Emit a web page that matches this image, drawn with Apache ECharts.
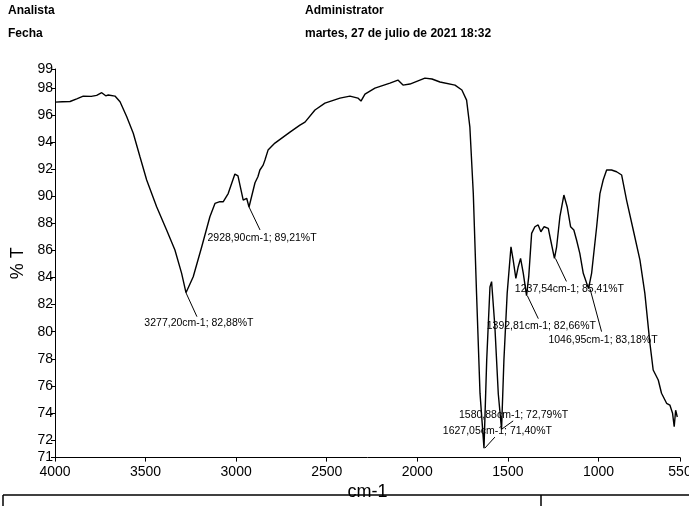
<!DOCTYPE html>
<html>
<head>
<meta charset="utf-8">
<script src="https://cdn.jsdelivr.net/npm/echarts@6/dist/echarts.min.js"></script>
<style>
html,body{margin:0;padding:0;background:#fff;}
#chart{width:689px;height:506px;}
</style>
</head>
<body>
<div id="chart"></div>
<script>
// ---- data ----
const wavenumbers = [4000,3960,3917,3880,3844,3800,3770,3742,3720,3706,3669,3641,3604,3568,3531,3494,3439,3384,3338,3301,3277,3237,3190,3145,3117,3090,3071,3044,3007,2990,2979,2961,2950,2942,2929,2896,2880,2869,2851,2841,2824,2786,2703,2648,2620,2565,2510,2427,2372,2328,2311,2289,2234,2151,2107,2079,2041,1958,1919,1875,1792,1754,1728,1710,1691,1673,1654,1632,1617,1599,1590,1572,1553,1535,1522,1504,1483,1471,1456,1443,1430,1415,1397,1385,1369,1351,1333,1318,1300,1277,1264,1243,1231,1213,1191,1173,1154,1136,1121,1103,1084,1055,1038,1010,992,974,955,928,900,872,845,808,771,744,716,698,670,652,624,606,591,582,574,565];
const transmittance = [96.95,96.98,97.0,97.2,97.4,97.38,97.45,97.65,97.42,97.48,97.4,96.98,95.87,94.65,92.92,91.2,89.23,87.51,86.03,84.31,82.88,84.06,86.27,88.49,89.47,89.6,89.6,90.2,91.64,91.5,90.83,89.72,89.6,89.85,89.21,91.0,91.44,91.94,92.3,92.68,93.41,93.93,94.74,95.26,95.48,96.37,96.88,97.25,97.40,97.25,97.03,97.55,97.99,98.36,98.58,98.21,98.29,98.73,98.66,98.44,98.21,97.85,97.1,95.13,90.2,82.8,75.46,71.40,77.9,83.3,83.7,80.4,75.4,72.79,77.9,82.83,86.27,85.3,83.94,84.8,85.41,84.3,82.66,84.06,87.26,87.75,87.88,87.38,87.75,87.63,86.77,85.41,86.27,88.49,90.09,89.23,87.75,87.51,86.77,85.78,84.31,83.18,84.31,87.75,90.2,91.2,91.94,91.94,91.81,91.57,89.72,87.51,85.29,82.83,79.14,77.17,76.43,75.45,74.71,74.58,73.97,72.98,74.2,73.7];

const xTickLabels = [4000,3500,3000,2500,2000,1500,1000,550];
const yTickLabels = [71,72,74,76,78,80,82,84,86,88,90,92,94,96,98,99];

const annWn   = [3277.2, 2928.9, 1392.81, 1237.54, 1046.95, 1535, 1627.05];
const annT    = [82.88, 89.21, 82.66, 85.41, 83.18, 72.79, 71.40];
const annText = ['3277,20cm-1; 82,88%T','2928,90cm-1; 89,21%T','1392,81cm-1; 82,66%T','1237,54cm-1; 85,41%T','1046,95cm-1; 83,18%T','1580,88cm-1; 72,79%T','1627,05cm-1; 71,40%T'];

const headerLeft  = ['Analista','Fecha'];
const headerRight = ['Administrator','martes, 27 de julio de 2021 18:32'];

// ---- layout / style ----
const annLayout = [
  {lx:11, ly:24, tx:13, ty:30},
  {lx:11, ly:23, tx:13, ty:31},
  {lx:11, ly:23, tx:14, ty:30},
  {lx:11, ly:23, tx:14, ty:31},
  {lx:11.6, ly:43, tx:13, ty:51},
  {lx:11.6, ly:-8.4, tx:12, ty:-14},
  {lx:10, ly:-11, tx:12.5, ty:-17}
];
const yMin = 70.7, yMax = 99.4;
const narrow = '"Liberation Sans Narrow", "Liberation Sans", Arial, sans-serif';
const sans = '"Liberation Sans", Arial, sans-serif';

const chart = echarts.init(document.getElementById('chart'), null, {renderer:'canvas'});
const lineData = wavenumbers.map((w,i)=>[w, transmittance[i]]);
const annData = annWn.map((w,i)=>[w, annT[i]]);
const yTickValues = yTickLabels.map(v => v===71 ? yMin : (v===99 ? yMax : v));

const headerGraphics = [];
headerLeft.forEach((t,i)=>headerGraphics.push({type:'text', left:8, top:5+i*23, style:{text:t, font:'bold 12px '+sans, fill:'#000'}}));
headerRight.forEach((t,i)=>headerGraphics.push({type:'text', left:305, top:5+i*23, style:{text:t, font:'bold 12px '+sans, fill:'#000'}}));

chart.setOption({
  animation:false,
  backgroundColor:'#fff',
  grid:{left:55, right:9, top:69, bottom:48.4, containLabel:false, outerBoundsMode:'none'},
  xAxis:{
    type:'value', min:550, max:4000, inverse:true,
    name:'cm-1', nameLocation:'middle', nameGap:25, nameMoveOverlap:false,
    nameTextStyle:{fontFamily:narrow, fontSize:18, color:'#000'},
    axisLine:{show:true, onZero:false, lineStyle:{color:'#000', width:1}},
    axisTick:{show:true, length:4, customValues:xTickLabels, lineStyle:{color:'#000'}},
    axisLabel:{customValues:xTickLabels, fontFamily:narrow, fontSize:14, color:'#000', margin:8,
      formatter:v=>String(v), showMinLabel:true, showMaxLabel:true, hideOverlap:false},
    splitLine:{show:false}
  },
  yAxis:{
    type:'value', min:yMin, max:yMax,
    name:'% T', nameLocation:'middle', nameGap:28, nameRotate:90, nameMoveOverlap:false,
    nameTextStyle:{fontFamily:sans, fontSize:18, color:'#000'},
    axisLine:{show:true, onZero:false, lineStyle:{color:'#000', width:1}},
    axisTick:{show:true, length:4, customValues:yTickValues, lineStyle:{color:'#000'}},
    axisLabel:{customValues:yTickValues, fontFamily:narrow, fontSize:14, color:'#000', margin:2,
      formatter:v=>String(Math.round(v)), showMinLabel:true, showMaxLabel:true, hideOverlap:false},
    splitLine:{show:false}
  },
  series:[
    {type:'line', data:lineData, showSymbol:false, smooth:false, lineStyle:{color:'#000', width:1.4}, z:3, silent:true},
    {type:'custom', data:annData, z:4, silent:true,
      renderItem:(params, api)=>{
        const p = api.coord([api.value(0), api.value(1)]);
        const L = annLayout[params.dataIndex];
        return {type:'group', children:[
          {type:'line', shape:{x1:p[0], y1:p[1], x2:p[0]+L.lx, y2:p[1]+L.ly}, style:{stroke:'#000', lineWidth:1}},
          {type:'text', x:p[0]+L.tx, y:p[1]+L.ty, style:{text:annText[params.dataIndex], font:'10.5px '+narrow, fill:'#000', align:'center', verticalAlign:'middle'}}
        ]};
      }
    }
  ],
  graphic:[
    ...headerGraphics,
    {type:'line', shape:{x1:3, y1:495, x2:689, y2:495}, style:{stroke:'#000', lineWidth:1.5}},
    {type:'line', shape:{x1:3, y1:495, x2:3, y2:506}, style:{stroke:'#000', lineWidth:1.5}},
    {type:'line', shape:{x1:541, y1:495, x2:541, y2:506}, style:{stroke:'#000', lineWidth:1.5}}
  ]
});
</script>
</body>
</html>
